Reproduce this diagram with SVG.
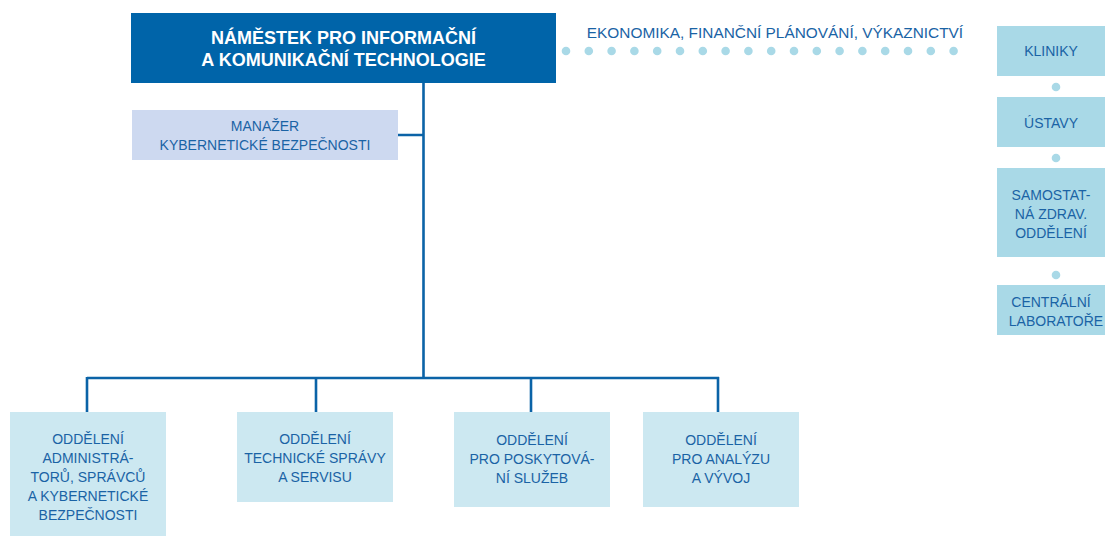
<svg xmlns="http://www.w3.org/2000/svg" width="1105" height="536" viewBox="0 0 1105 536">
<style>
.t{font-family:"Liberation Sans",Arial,sans-serif;font-size:14px;fill:#1a63a5;text-anchor:middle}
.e{font-size:15.4px}
.h{font-family:"Liberation Sans",Arial,sans-serif;font-size:18px;font-weight:bold;fill:#ffffff;text-anchor:middle}
.dept{fill:#cce8f1}
.side{fill:#a9d9e7}
.ln{stroke:#0b63a7;stroke-width:2.6;fill:none}
.dot{fill:#a9d9e7}
</style>
<rect width="1105" height="536" fill="#ffffff"/>
<g id="connectors">
<path class="ln" d="M423.5,83 V378 M398,135 H423.5 M87,378 H719 M87,377 V412 M316,377 V412 M531,377 V412 M718,377 V412"/>
<g id="dots-h">
<circle class="dot" cx="566" cy="51" r="4.3"/><circle class="dot" cx="588.8" cy="51" r="4.3"/><circle class="dot" cx="611.6" cy="51" r="4.3"/><circle class="dot" cx="634.4" cy="51" r="4.3"/><circle class="dot" cx="657.2" cy="51" r="4.3"/><circle class="dot" cx="680" cy="51" r="4.3"/><circle class="dot" cx="702.8" cy="51" r="4.3"/><circle class="dot" cx="725.6" cy="51" r="4.3"/><circle class="dot" cx="748.4" cy="51" r="4.3"/><circle class="dot" cx="771.2" cy="51" r="4.3"/><circle class="dot" cx="794" cy="51" r="4.3"/><circle class="dot" cx="816.8" cy="51" r="4.3"/><circle class="dot" cx="839.6" cy="51" r="4.3"/><circle class="dot" cx="862.4" cy="51" r="4.3"/><circle class="dot" cx="885.2" cy="51" r="4.3"/><circle class="dot" cx="908" cy="51" r="4.3"/><circle class="dot" cx="930.8" cy="51" r="4.3"/><circle class="dot" cx="953.6" cy="51" r="4.3"/>
</g>
<circle class="dot" cx="1056" cy="87" r="4.3"/>
<circle class="dot" cx="1056" cy="158" r="4.3"/>
<circle class="dot" cx="1056" cy="275" r="4.3"/>
<text class="t e" x="775" y="38">EKONOMIKA, FINANČNÍ PLÁNOVÁNÍ, VÝKAZNICTVÍ</text>
</g>
<g id="top">
<rect x="131" y="13" width="425" height="70" fill="#0064a9"/>
<text class="h" x="343.5" y="44">NÁMĚSTEK PRO INFORMAČNÍ</text>
<text class="h" x="343.5" y="66">A KOMUNIKAČNÍ TECHNOLOGIE</text>
</g>
<g id="manager">
<rect x="132" y="110" width="266" height="50" fill="#cdd9f0"/>
<text class="t" x="265" y="131">MANAŽER</text>
<text class="t" x="265" y="150">KYBERNETICKÉ BEZPEČNOSTI</text>
</g>
<g id="kliniky">
<rect class="side" x="997" y="26" width="108" height="50"/>
<text class="t" x="1051" y="56">KLINIKY</text>
</g>
<g id="ustavy">
<rect class="side" x="997" y="97" width="108" height="50"/>
<text class="t" x="1051" y="128">ÚSTAVY</text>
</g>
<g id="samostatna">
<rect class="side" x="997" y="168" width="108" height="89"/>
<text class="t" x="1051" y="200">SAMOSTAT-</text>
<text class="t" x="1051" y="219">NÁ ZDRAV.</text>
<text class="t" x="1051" y="238">ODDĚLENÍ</text>
</g>
<g id="centralni">
<rect class="side" x="997" y="285" width="108" height="50"/>
<text class="t" x="1051" y="307">CENTRÁLNÍ</text>
<text class="t" x="1056" y="326">LABORATOŘE</text>
</g>
<g id="dept1">
<rect class="dept" x="10" y="412" width="156" height="124"/>
<text class="t" x="88" y="444">ODDĚLENÍ</text>
<text class="t" x="88" y="463">ADMINISTRÁ-</text>
<text class="t" x="88" y="482">TORŮ, SPRÁVCŮ</text>
<text class="t" x="88" y="501">A KYBERNETICKÉ</text>
<text class="t" x="88" y="520">BEZPEČNOSTI</text>
</g>
<g id="dept2">
<rect class="dept" x="237" y="412" width="156" height="90"/>
<text class="t" x="315" y="444">ODDĚLENÍ</text>
<text class="t" x="315" y="463">TECHNICKÉ SPRÁVY</text>
<text class="t" x="315" y="482">A SERVISU</text>
</g>
<g id="dept3">
<rect class="dept" x="454" y="412" width="156" height="95"/>
<text class="t" x="532" y="445">ODDĚLENÍ</text>
<text class="t" x="532" y="464">PRO POSKYTOVÁ-</text>
<text class="t" x="532" y="483">NÍ SLUŽEB</text>
</g>
<g id="dept4">
<rect class="dept" x="643" y="412" width="156" height="95"/>
<text class="t" x="721" y="445">ODDĚLENÍ</text>
<text class="t" x="721" y="464">PRO ANALÝZU</text>
<text class="t" x="721" y="483">A VÝVOJ</text>
</g>
</svg>
